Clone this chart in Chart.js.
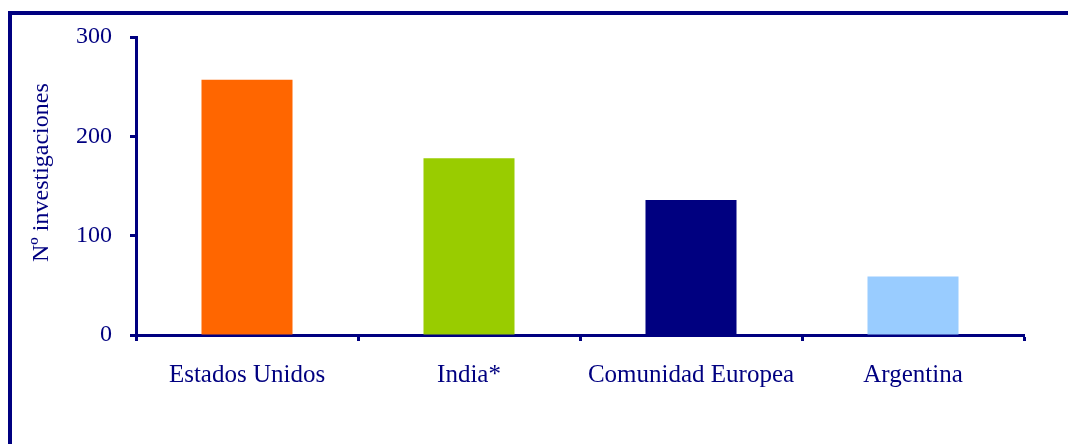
<!DOCTYPE html>
<html>
<head>
<meta charset="utf-8">
<script src="https://cdn.jsdelivr.net/npm/chart.js@4/dist/chart.umd.min.js"></script>
<style>
  body { margin: 0; background: #fff; }
  #wrap { position: relative; width: 1068px; height: 444px; overflow: hidden; }
  #marco { position: absolute; left: 8px; top: 11px; width: 1100px; height: 500px;
           border-top: 4px solid #000080; border-left: 4px solid #000080; }
  #grafico { position: absolute; left: 0; top: 0; }
</style>
</head>
<body>
<div id="wrap">
  <div id="marco"></div>
  <canvas id="grafico" width="1068" height="444"></canvas>
</div>
<script>
// Datos del gráfico
const paises = ["Estados Unidos", "India*", "Comunidad Europea", "Argentina"];
const investigaciones = [257, 178, 136, 59];
const colores = ["#FF6600", "#99CC00", "#000080", "#99CCFF"];
const ticksY = [0, 100, 200, 300];
const tituloY = "Nº investigaciones";

const azul = "#000080";
const fuente = "'Liberation Serif', 'Times New Roman', serif";

// Título del eje Y dibujado a mano, algo por encima del centro del eje
const tituloEje = {
    id: 'tituloEje',
    afterDraw(chart) {
        const c = chart.ctx;
        const y = chart.scales.y;
        c.save();
        c.translate(42, y.top + (y.bottom - y.top) * 0.455);
        c.rotate(-Math.PI / 2);
        c.fillStyle = azul;
        c.font = "24px " + fuente;
        c.textAlign = 'center';
        c.textBaseline = 'middle';
        c.fillText(tituloY, 0, 0);
        c.restore();
    }
};

let ctx = document.getElementById('grafico').getContext('2d');

let grafico = new Chart(ctx, {
    type: 'bar',
    data: {
        labels: paises,
        datasets: [{
            data: investigaciones,
            backgroundColor: colores,
            borderWidth: 0,
            barPercentage: 0.41,
            categoryPercentage: 1
        }]
    },
    options: {
        responsive: false,
        animation: false,
        layout: { padding: { top: 37, right: 44, left: 0, bottom: 0 } },
        plugins: { legend: { display: false }, tooltip: { enabled: false } },
        scales: {
            x: {
                grid: { offset: true, drawOnChartArea: false, drawTicks: true, tickLength: 6, tickWidth: 3, tickColor: azul },
                border: { display: true, color: azul, width: 3 },
                ticks: { color: azul, padding: 19, font: { family: fuente, size: 25 } },
                afterFit: s => { s.height = 109; }
            },
            y: {
                min: 0,
                max: 300,
                afterBuildTicks: s => { s.ticks = ticksY.map(v => ({ value: v })); },
                grid: { drawOnChartArea: false, drawTicks: true, tickLength: 6, tickWidth: 3, tickColor: azul },
                border: { display: true, color: azul, width: 3 },
                ticks: { color: azul, padding: 18, font: { family: fuente, size: 24 } },
                afterFit: s => { s.width = 136; }
            }
        }
    },
    plugins: [tituloEje]
});
</script>
</body>
</html>
